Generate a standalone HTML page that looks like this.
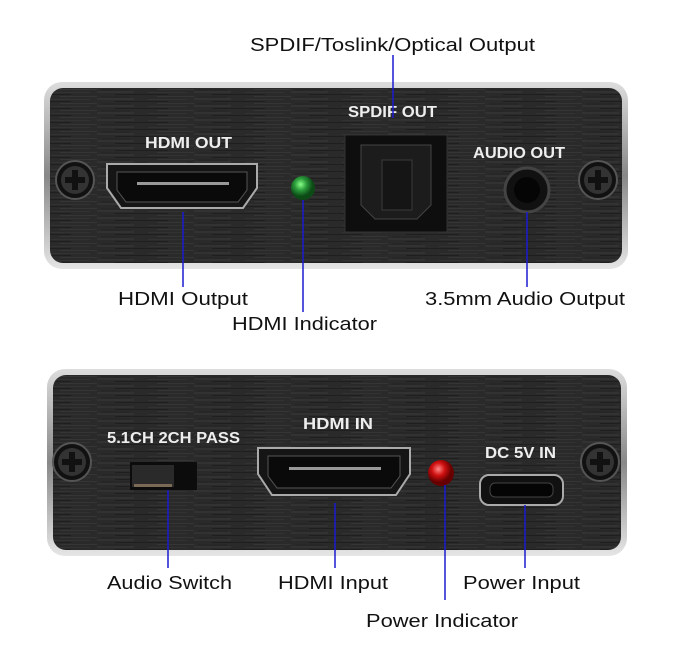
<!DOCTYPE html>
<html><head><meta charset="utf-8"><style>
html,body{margin:0;padding:0;background:#fff}
svg{display:block}
text{font-family:"Liberation Sans",Arial,sans-serif}
</style></head><body>
<svg width="673" height="657" viewBox="0 0 673 657" xmlns="http://www.w3.org/2000/svg">
<defs>
<pattern id="br" width="97" height="7" patternUnits="userSpaceOnUse">
<rect width="97" height="7" fill="#2a2a2a"/>
<line x1="0" y1="1" x2="37" y2="1" stroke="#3a3a3a" stroke-width="1"/>
<line x1="51" y1="1.5" x2="90" y2="1.5" stroke="#323232" stroke-width="1"/>
<line x1="18" y1="3.5" x2="71" y2="3.5" stroke="#1f1f1f" stroke-width="1"/>
<line x1="60" y1="5.5" x2="97" y2="5.5" stroke="#383838" stroke-width="0.8"/>
<line x1="4" y1="6" x2="33" y2="6" stroke="#222" stroke-width="0.8"/>
</pattern>
<linearGradient id="rim" x1="0" y1="0" x2="0" y2="1">
<stop offset="0" stop-color="#ddd"/><stop offset="0.5" stop-color="#888"/><stop offset="1" stop-color="#e5e5e5"/>
</linearGradient>
<radialGradient id="g" cx="0.4" cy="0.35"><stop offset="0" stop-color="#8f8"/><stop offset="0.5" stop-color="#2a9a3a"/><stop offset="1" stop-color="#0c4a16"/></radialGradient>
<radialGradient id="r" cx="0.4" cy="0.35"><stop offset="0" stop-color="#f88"/><stop offset="0.5" stop-color="#d01010"/><stop offset="1" stop-color="#600"/></radialGradient>
<g id="screw"><circle r="19" fill="#111" stroke="#555" stroke-width="2"/><circle r="14" fill="#333"/><path d="M-10,-3h7v-7h6v7h7v6h-7v7h-6v-7h-7z" fill="#111"/></g>
</defs>

<rect x="44" y="82" width="584" height="187" rx="18" fill="url(#rim)"/>
<rect x="50" y="88" width="572" height="175" rx="13" fill="url(#br)"/>
<use href="#screw" x="75" y="180"/>
<use href="#screw" x="598" y="180"/>
<g font-size="16" fill="#eee" font-weight="bold" lengthAdjust="spacingAndGlyphs">
<text x="145" y="148" textLength="87" lengthAdjust="spacingAndGlyphs">HDMI OUT</text>
<text x="348" y="117" textLength="89" lengthAdjust="spacingAndGlyphs">SPDIF OUT</text>
<text x="473" y="158" textLength="92" lengthAdjust="spacingAndGlyphs">AUDIO OUT</text>
<text x="303" y="429" textLength="70" lengthAdjust="spacingAndGlyphs">HDMI IN</text>
<text x="107" y="443" textLength="133" lengthAdjust="spacingAndGlyphs">5.1CH  2CH PASS</text>
<text x="485" y="458" textLength="71" lengthAdjust="spacingAndGlyphs">DC 5V IN</text>
</g>
<path d="M107,164h150v24l-14,20h-122l-14,-20z" fill="#151515" stroke="#aaa" stroke-width="2"/>
<path d="M117,172h130v18l-9,12h-112l-9,-12z" fill="#0a0a0a" stroke="#555"/>
<rect x="137" y="182" width="92" height="3" fill="#999"/>
<circle cx="303" cy="188" r="12" fill="url(#g)"/>
<rect x="345" y="135" width="102" height="97" fill="#0e0e0e" stroke="#333"/>
<path d="M361,145h70v60l-14,14h-42l-14,-14z" fill="#1c1c1c" stroke="#444"/>
<rect x="382" y="160" width="30" height="50" fill="#151515" stroke="#3a3a3a"/>
<circle cx="527" cy="190" r="22" fill="#111" stroke="#444" stroke-width="3"/>
<circle cx="527" cy="190" r="13" fill="#050505"/>

<g stroke="#1a1ad0" stroke-width="1.5">
<line x1="393" y1="55" x2="393" y2="118"/>
<line x1="183" y1="212" x2="183" y2="287"/>
<line x1="303" y1="200" x2="303" y2="312"/>
<line x1="527" y1="212" x2="527" y2="287"/>
</g>
<g font-size="18" fill="#111">
<text x="250" y="51" textLength="285" lengthAdjust="spacingAndGlyphs">SPDIF/Toslink/Optical Output</text>
<text x="118" y="305" textLength="130" lengthAdjust="spacingAndGlyphs">HDMI Output</text>
<text x="232" y="330" textLength="145" lengthAdjust="spacingAndGlyphs">HDMI Indicator</text>
<text x="425" y="305" textLength="200" lengthAdjust="spacingAndGlyphs">3.5mm Audio Output</text>
</g>

<rect x="47" y="369" width="580" height="187" rx="18" fill="url(#rim)"/>
<rect x="53" y="375" width="568" height="175" rx="13" fill="url(#br)"/>
<use href="#screw" x="72" y="462"/>
<use href="#screw" x="600" y="462"/>
<g font-size="16" fill="#eee" font-weight="bold">
<text x="303" y="429" textLength="70" lengthAdjust="spacingAndGlyphs">HDMI IN</text>
<text x="107" y="443" textLength="133" lengthAdjust="spacingAndGlyphs">5.1CH  2CH PASS</text>
<text x="485" y="458" textLength="71" lengthAdjust="spacingAndGlyphs">DC 5V IN</text>
</g>
<rect x="130" y="462" width="67" height="28" fill="#0c0c0c"/>
<rect x="132" y="465" width="42" height="22" fill="#2a2a2a"/>
<rect x="134" y="484" width="38" height="3" fill="#7a6a55"/>
<path d="M258,448h152v26l-14,21h-124l-14,-21z" fill="#151515" stroke="#aaa" stroke-width="2"/>
<path d="M268,456h132v20l-9,12h-114l-9,-12z" fill="#0a0a0a" stroke="#555"/>
<rect x="289" y="467" width="92" height="3" fill="#999"/>
<circle cx="441" cy="473" r="13" fill="url(#r)"/>
<rect x="480" y="475" width="83" height="30" rx="9" fill="#111" stroke="#aaa" stroke-width="2"/>
<rect x="490" y="483" width="63" height="14" rx="5" fill="#050505" stroke="#444"/>

<g stroke="#1a1ad0" stroke-width="1.5">
<line x1="168" y1="490" x2="168" y2="568"/>
<line x1="335" y1="503" x2="335" y2="568"/>
<line x1="445" y1="485" x2="445" y2="600"/>
<line x1="525" y1="505" x2="525" y2="568"/>
</g>
<g font-size="18" fill="#111">
<text x="107" y="589" textLength="125" lengthAdjust="spacingAndGlyphs">Audio Switch</text>
<text x="278" y="589" textLength="110" lengthAdjust="spacingAndGlyphs">HDMI Input</text>
<text x="463" y="589" textLength="117" lengthAdjust="spacingAndGlyphs">Power Input</text>
<text x="366" y="627" textLength="152" lengthAdjust="spacingAndGlyphs">Power Indicator</text>
</g>
</svg>
</body></html>
